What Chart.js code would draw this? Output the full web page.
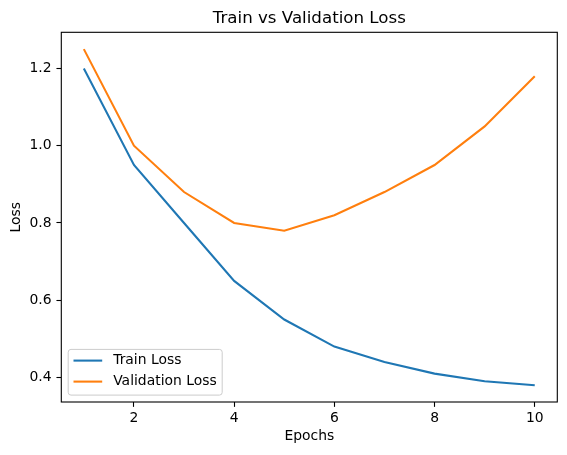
<!DOCTYPE html>
<html>
<head>
<meta charset="utf-8">
<title>Train vs Validation Loss</title>
<script src="https://cdn.jsdelivr.net/npm/chart.js@4/dist/chart.umd.min.js"></script>
<style>
  html, body { margin: 0; padding: 0; background: #ffffff; }
  #wrap { width: 567px; height: 455px; }
</style>
</head>
<body>
<div id="wrap"><canvas id="loss-chart" width="567" height="455"></canvas></div>
<script>
// ── DATA ──
const epochs     = [1, 2, 3, 4, 5, 6, 7, 8, 9, 10];
const trainLoss  = [1.20, 0.95, 0.80, 0.65, 0.55, 0.48, 0.44, 0.41, 0.39, 0.38];
const valLoss    = [1.25, 1.00, 0.88, 0.80, 0.78, 0.82, 0.88, 0.95, 1.05, 1.18];
const xTickVals  = [2, 4, 6, 8, 10];
const yTickVals  = [0.4, 0.6, 0.8, 1.0, 1.2];

// ── STYLE ──
const FONT  = "'DejaVu Sans', sans-serif";
const BLUE  = '#1f77b4';
const ORANGE = '#ff7f0e';
const INK   = '#000000';
const TICK_FONT = 13.9;

// full box round the axes, like matplotlib spines
const spines = {
  id: 'spines',
  afterDraw(chart) {
    const { ctx, chartArea: a } = chart;
    ctx.save();
    ctx.strokeStyle = INK;
    ctx.lineWidth = 1.1;
    ctx.strokeRect(a.left, a.top, a.right - a.left, a.bottom - a.top);
    ctx.restore();
  }
};

// legend in the lower-left corner, inside the axes
const cornerLegend = {
  id: 'cornerLegend',
  afterDraw(chart) {
    const { ctx, chartArea: a } = chart;
    const sets = chart.data.datasets;
    const pad = 6.9, rowGap = 21;
    const boxW = 154, boxH = 45.7;
    const x0 = a.left + pad, y0 = a.bottom - pad - boxH;

    ctx.save();
    ctx.beginPath();
    ctx.roundRect(x0, y0, boxW, boxH, 2.8);
    ctx.fillStyle = 'rgba(255,255,255,0.8)';
    ctx.fill();
    ctx.strokeStyle = '#cccccc';
    ctx.lineWidth = 1;
    ctx.stroke();

    ctx.font = `${TICK_FONT}px ${FONT}`;
    ctx.textBaseline = 'middle';
    ctx.textAlign = 'left';
    sets.forEach((ds, i) => {
      const y = y0 + 11.2 + i * rowGap;
      ctx.beginPath();
      ctx.moveTo(x0 + 5.3, y);
      ctx.lineTo(x0 + 34, y);
      ctx.strokeStyle = ds.borderColor;
      ctx.lineWidth = 2.08;
      ctx.stroke();
      ctx.fillStyle = INK;
      ctx.fillText(ds.label, x0 + 45, y);
    });
    ctx.restore();
  }
};

const toPoints = ys => ys.map((y, i) => ({ x: epochs[i], y }));

new Chart(document.getElementById('loss-chart'), {
  type: 'line',
  data: {
    datasets: [
      {
        label: 'Train Loss',
        data: toPoints(trainLoss),
        borderColor: BLUE,
        backgroundColor: BLUE,
        borderWidth: 2.08,
        pointRadius: 0,
        tension: 0,
        fill: false
      },
      {
        label: 'Validation Loss',
        data: toPoints(valLoss),
        borderColor: ORANGE,
        backgroundColor: ORANGE,
        borderWidth: 2.08,
        pointRadius: 0,
        tension: 0,
        fill: false
      }
    ]
  },
  plugins: [spines, cornerLegend],
  options: {
    responsive: false,
    animation: false,
    layout: { padding: { left: 0, right: 9.7, top: 0, bottom: 0 } },
    plugins: {
      legend: { display: false },
      tooltip: { enabled: false },
      title: {
        display: true,
        text: 'Train vs Validation Loss',
        fullSize: false,
        color: INK,
        font: { family: FONT, size: 16.67, weight: 'normal', lineHeight: 1.2 },
        padding: { top: 9, bottom: 3.3 }
      }
    },
    scales: {
      x: {
        type: 'linear',
        min: 0.55,
        max: 10.45,
        afterBuildTicks: s => { s.ticks = xTickVals.map(v => ({ value: v })); },
        afterFit: s => { s.height = 53; },
        border: { display: false },
        grid: {
          drawOnChartArea: false,
          drawTicks: true,
          tickLength: 4.86,
          tickColor: INK,
          tickWidth: 1.1
        },
        ticks: {
          color: INK,
          padding: 3,
          maxRotation: 0,
          autoSkip: false,
          font: { family: FONT, size: TICK_FONT },
          callback: v => String(v)
        },
        title: {
          display: true,
          text: 'Epochs',
          color: INK,
          font: { family: FONT, size: TICK_FONT },
          padding: { top: 0, bottom: 10.2 }
        }
      },
      y: {
        type: 'linear',
        min: 0.3365,
        max: 1.2935,
        afterBuildTicks: s => { s.ticks = yTickVals.map(v => ({ value: v })); },
        afterFit: s => { s.width = 61.3; },
        border: { display: false },
        grid: {
          drawOnChartArea: false,
          drawTicks: true,
          tickLength: 4.86,
          tickColor: INK,
          tickWidth: 1.1
        },
        ticks: {
          color: INK,
          padding: 4.86,
          autoSkip: false,
          font: { family: FONT, size: TICK_FONT },
          callback: v => v.toFixed(1)
        },
        title: {
          display: true,
          text: 'Loss',
          color: INK,
          font: { family: FONT, size: TICK_FONT },
          padding: { top: 8.2, bottom: 0 }
        }
      }
    }
  }
});
</script>
</body>
</html>
